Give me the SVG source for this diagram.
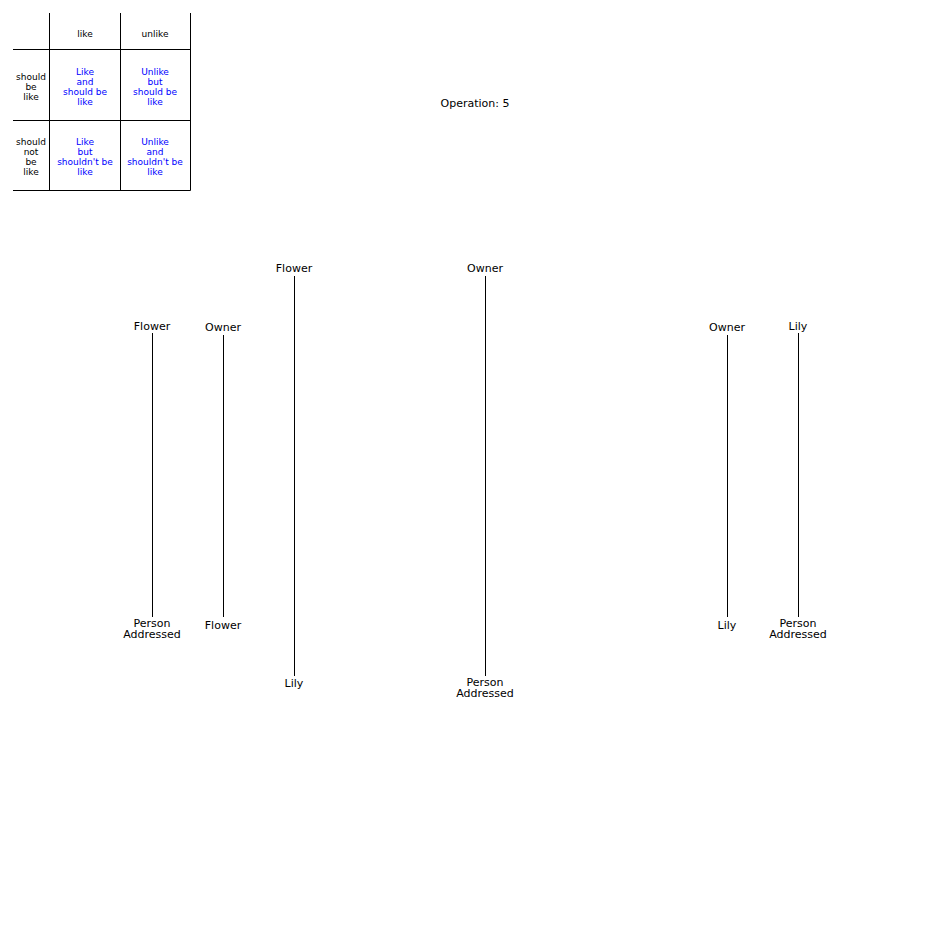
<svg xmlns="http://www.w3.org/2000/svg" width="950" height="950" viewBox="0 0 950 950">
<style>
.bg{fill:#fff}
.ln{stroke:#000;stroke-width:1;fill:none}
.t{font-family:"DejaVu Sans",sans-serif;font-size:9px;text-anchor:middle;fill:#000}
.b{fill:#0000ff}
.n{font-family:"DejaVu Sans",sans-serif;font-size:11px;text-anchor:middle;fill:#000}
</style>
<rect class="bg" width="950" height="950"/>
<g id="table">
<path class="ln" d="M49.5 13V190.5M120.5 13V190.5M190.5 13V190.5M13 49.5H190.5M13 120.5H190.5M13 190.5H190.5"/>
<text class="t" x="85" y="37">like</text>
<text class="t" x="155" y="37">unlike</text>
<text class="t" x="31" y="80">should</text>
<text class="t" x="31" y="90">be</text>
<text class="t" x="31" y="100">like</text>
<text class="t" x="31" y="145">should</text>
<text class="t" x="31" y="155">not</text>
<text class="t" x="31" y="165">be</text>
<text class="t" x="31" y="175">like</text>
<text class="t b" x="85" y="75">Like</text>
<text class="t b" x="85" y="85">and</text>
<text class="t b" x="85" y="95">should be</text>
<text class="t b" x="85" y="105">like</text>
<text class="t b" x="155" y="75">Unlike</text>
<text class="t b" x="155" y="85">but</text>
<text class="t b" x="155" y="95">should be</text>
<text class="t b" x="155" y="105">like</text>
<text class="t b" x="85" y="145">Like</text>
<text class="t b" x="85" y="155">but</text>
<text class="t b" x="85" y="165">shouldn't be</text>
<text class="t b" x="85" y="175">like</text>
<text class="t b" x="155" y="145">Unlike</text>
<text class="t b" x="155" y="155">and</text>
<text class="t b" x="155" y="165">shouldn't be</text>
<text class="t b" x="155" y="175">like</text>
</g>
<g id="title"><text class="n" x="475" y="107">Operation: 5</text></g>
<g id="connectors">
<path class="ln" d="M152.5 333V617M223.5 335V617M294.5 276V676M485.5 276V676M727.5 335V617M798.5 333V617"/>
</g>
<g id="n1"><text class="n" x="152" y="330">Flower</text></g>
<g id="n2"><text class="n" x="152" y="627">Person</text><text class="n" x="152" y="638">Addressed</text></g>
<g id="n3"><text class="n" x="223" y="331">Owner</text></g>
<g id="n4"><text class="n" x="223" y="629">Flower</text></g>
<g id="n5"><text class="n" x="294" y="272">Flower</text></g>
<g id="n6"><text class="n" x="294" y="687">Lily</text></g>
<g id="n7"><text class="n" x="485" y="272">Owner</text></g>
<g id="n8"><text class="n" x="485" y="686">Person</text><text class="n" x="485" y="697">Addressed</text></g>
<g id="n9"><text class="n" x="727" y="331">Owner</text></g>
<g id="n10"><text class="n" x="727" y="629">Lily</text></g>
<g id="n11"><text class="n" x="798" y="330">Lily</text></g>
<g id="n12"><text class="n" x="798" y="627">Person</text><text class="n" x="798" y="638">Addressed</text></g>
</svg>
